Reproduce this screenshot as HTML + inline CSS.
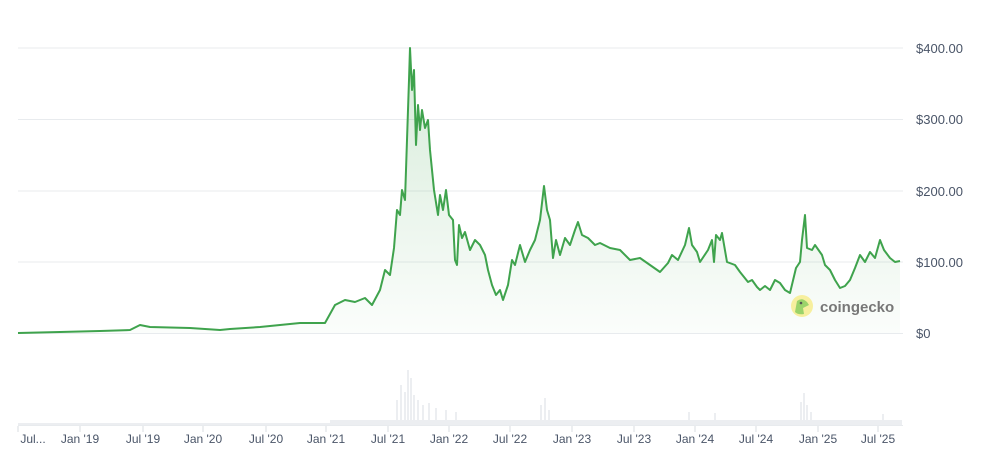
<!DOCTYPE html>
<html><head><style>body{margin:0;background:#fff}svg{display:block;font-family:"Liberation Sans",sans-serif}</style></head><body>
<svg width="991" height="464" viewBox="0 0 991 464">
<defs><linearGradient id="g" x1="0" y1="0" x2="0" y2="1"><stop offset="0" stop-color="#3fa34d" stop-opacity="0.22"/><stop offset="1" stop-color="#3fa34d" stop-opacity="0.02"/></linearGradient></defs>
<g stroke="#e8ebee" stroke-width="1">
<line x1="18" y1="48" x2="903" y2="48"/><line x1="18" y1="119.5" x2="903" y2="119.5"/><line x1="18" y1="191" x2="903" y2="191"/><line x1="18" y1="262" x2="903" y2="262"/><line x1="18" y1="333.5" x2="903" y2="333.5"/>
<line x1="18" y1="425.5" x2="903" y2="425.5"/>
</g>
<g fill="#4a5568" font-size="13">
<text x="916" y="53">$400.00</text><text x="916" y="124">$300.00</text><text x="916" y="196">$200.00</text><text x="916" y="267">$100.00</text><text x="916" y="338">$0</text>
</g>
<g fill="#eceef1">
<rect x="18" y="423" width="312" height="2"/>
<rect x="330" y="420" width="572" height="5"/>
<rect x="396" y="400" width="2" height="25"/><rect x="400" y="385" width="2" height="40"/><rect x="404" y="392" width="2" height="33"/><rect x="407" y="370" width="2" height="55"/><rect x="410" y="378" width="2" height="47"/><rect x="413" y="395" width="2" height="30"/><rect x="417" y="400" width="2" height="25"/><rect x="422" y="405" width="2" height="20"/><rect x="428" y="403" width="2" height="22"/><rect x="435" y="408" width="2" height="17"/><rect x="445" y="410" width="2" height="15"/><rect x="455" y="412" width="2" height="13"/>
<rect x="540" y="405" width="2" height="20"/><rect x="544" y="398" width="2" height="27"/><rect x="548" y="410" width="2" height="15"/>
<rect x="688" y="412" width="2" height="13"/><rect x="714" y="413" width="2" height="12"/>
<rect x="800" y="402" width="2" height="23"/><rect x="803" y="393" width="2" height="32"/><rect x="806" y="405" width="2" height="20"/><rect x="810" y="412" width="2" height="13"/>
<rect x="882" y="414" width="2" height="11"/>
</g>
<polygon fill="url(#g)" points="18,333 60,332 100,331 130,330 140,325 150,327 190,328 220,330 230,329 260,327 280,325 300,323 325,323 335,305 345,300 355,302 365,298 372,305 380,290 385,270 390,275 394,248 397,210 400,215 402,190 405,200 407,140 409,80 410,48 412,90 414,70 416,145 418,105 420,130 422,110 425,128 428,120 430,150 434,190 438,215 440,195 443,210 446,190 449,215 453,220 455,260 457,265 459,225 462,238 465,232 470,250 475,240 480,245 485,255 488,270 492,285 496,295 500,290 503,300 508,285 512,260 515,265 520,245 525,262 530,250 535,240 540,220 544,186 547,210 550,220 553,258 556,240 560,255 565,238 570,245 575,230 578,222 582,235 588,238 595,245 600,243 610,248 620,250 630,260 640,258 650,265 660,272 668,263 672,255 678,260 685,245 689,228 692,245 697,252 700,262 708,250 712,240 714,262 716,235 720,240 722,233 727,262 735,265 740,272 748,282 752,280 757,287 760,290 765,286 770,290 775,280 780,283 785,290 790,293 796,268 800,262 802,240 805,215 807,248 812,250 815,245 822,255 825,265 830,270 835,280 840,288 845,286 850,280 855,268 860,255 865,262 870,252 875,258 880,240 884,250 890,258 895,262 900,261 900,333"/>
<polyline fill="none" stroke="#3fa34d" stroke-width="2" stroke-linejoin="round" points="18,333 60,332 100,331 130,330 140,325 150,327 190,328 220,330 230,329 260,327 280,325 300,323 325,323 335,305 345,300 355,302 365,298 372,305 380,290 385,270 390,275 394,248 397,210 400,215 402,190 405,200 407,140 409,80 410,48 412,90 414,70 416,145 418,105 420,130 422,110 425,128 428,120 430,150 434,190 438,215 440,195 443,210 446,190 449,215 453,220 455,260 457,265 459,225 462,238 465,232 470,250 475,240 480,245 485,255 488,270 492,285 496,295 500,290 503,300 508,285 512,260 515,265 520,245 525,262 530,250 535,240 540,220 544,186 547,210 550,220 553,258 556,240 560,255 565,238 570,245 575,230 578,222 582,235 588,238 595,245 600,243 610,248 620,250 630,260 640,258 650,265 660,272 668,263 672,255 678,260 685,245 689,228 692,245 697,252 700,262 708,250 712,240 714,262 716,235 720,240 722,233 727,262 735,265 740,272 748,282 752,280 757,287 760,290 765,286 770,290 775,280 780,283 785,290 790,293 796,268 800,262 802,240 805,215 807,248 812,250 815,245 822,255 825,265 830,270 835,280 840,288 845,286 850,280 855,268 860,255 865,262 870,252 875,258 880,240 884,250 890,258 895,262 900,261"/>
<g transform="translate(802,306)"><circle r="11" fill="#f7ef9e"/><path d="M-7,6 L-5,-5 Q0,-9 5,-4 L7,-1 L1,2 L2,8 Q-4,9 -7,6Z" fill="#9bd36a"/><circle cx="-1" cy="-3" r="1.3" fill="#555"/></g>
<text x="820" y="312" font-size="15" font-weight="bold" fill="#777">coingecko</text>
<g stroke="#d8dce0"><line x1="18" y1="426" x2="18" y2="432"/><line x1="80" y1="426" x2="80" y2="432"/><line x1="143" y1="426" x2="143" y2="432"/><line x1="203" y1="426" x2="203" y2="432"/><line x1="266" y1="426" x2="266" y2="432"/><line x1="326" y1="426" x2="326" y2="432"/><line x1="388" y1="426" x2="388" y2="432"/><line x1="449" y1="426" x2="449" y2="432"/><line x1="510" y1="426" x2="510" y2="432"/><line x1="572" y1="426" x2="572" y2="432"/><line x1="634" y1="426" x2="634" y2="432"/><line x1="695" y1="426" x2="695" y2="432"/><line x1="756" y1="426" x2="756" y2="432"/><line x1="818" y1="426" x2="818" y2="432"/><line x1="878" y1="426" x2="878" y2="432"/></g>
<g fill="#4a5568" font-size="12" text-anchor="middle">
<text x="33" y="443">Jul...</text><text x="80" y="443">Jan '19</text><text x="143" y="443">Jul '19</text><text x="203" y="443">Jan '20</text><text x="266" y="443">Jul '20</text><text x="326" y="443">Jan '21</text><text x="388" y="443">Jul '21</text><text x="449" y="443">Jan '22</text><text x="510" y="443">Jul '22</text><text x="572" y="443">Jan '23</text><text x="634" y="443">Jul '23</text><text x="695" y="443">Jan '24</text><text x="756" y="443">Jul '24</text><text x="818" y="443">Jan '25</text><text x="878" y="443">Jul '25</text>
</g>
</svg></body></html>
